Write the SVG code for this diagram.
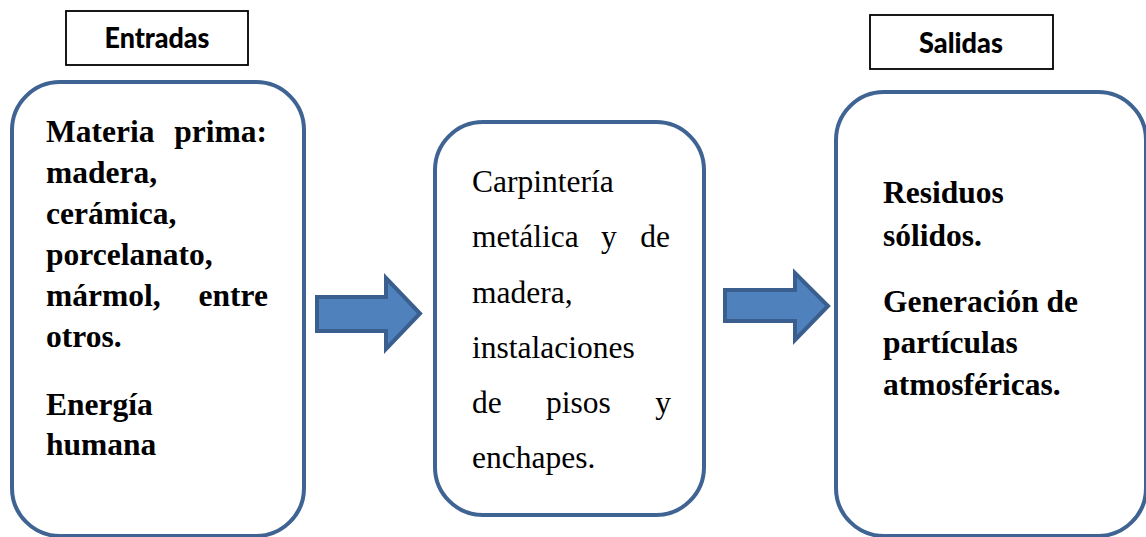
<svg xmlns="http://www.w3.org/2000/svg" width="1146" height="537" viewBox="0 0 1146 537">
<style>
.box{fill:#fff;stroke:#3F6392;stroke-width:4}
.lbl{fill:#fff;stroke:#000;stroke-width:1.8}
.lt{font-family:Lato,"Open Sans",sans-serif;font-weight:900;font-size:28px;fill:#000;text-anchor:middle}
.b{font-family:"Liberation Serif","Times New Roman",serif;font-weight:bold;font-size:31.5px;fill:#000}
.r{font-family:"Liberation Serif","Times New Roman",serif;font-size:31.5px;fill:#000}
.e{text-anchor:end}
.arr{fill:#4F81BD;stroke:#3A5F8E;stroke-width:4;stroke-linejoin:miter}
</style>
<rect width="1146" height="537" fill="#fff"/>
<g id="entradas-label">
<rect class="lbl" x="66" y="11" width="182" height="54"/>
<text class="lt" x="157" y="48" textLength="105" lengthAdjust="spacingAndGlyphs">Entradas</text>
</g>
<g id="salidas-label">
<rect class="lbl" x="870" y="15" width="183" height="54"/>
<text class="lt" x="961" y="53" textLength="84" lengthAdjust="spacingAndGlyphs">Salidas</text>
</g>
<g id="entradas">
<rect class="box" x="12" y="82" width="292" height="454" rx="48" ry="48"/>
<text class="b" x="46" y="142">Materia</text><text class="b e" x="267" y="142">prima:</text>
<text class="b" x="46" y="183">madera,</text>
<text class="b" x="46" y="224">cerámica,</text>
<text class="b" x="46" y="265">porcelanato,</text>
<text class="b" x="46" y="306">mármol,</text><text class="b e" x="268" y="306">entre</text>
<text class="b" x="46" y="347">otros.</text>
<text class="b" x="46" y="415">Energía</text>
<text class="b" x="46" y="455">humana</text>
</g>
<g id="proceso">
<rect class="box" x="435" y="122" width="269" height="393" rx="48" ry="48"/>
<text class="r" x="472" y="192">Carpintería</text>
<text class="r" x="472" y="247">metálica</text><text class="r" x="601" y="247">y</text><text class="r e" x="670" y="247">de</text>
<text class="r" x="472" y="303">madera,</text>
<text class="r" x="472" y="358">instalaciones</text>
<text class="r" x="472" y="413">de</text><text class="r" x="546" y="413">pisos</text><text class="r e" x="671" y="413">y</text>
<text class="r" x="472" y="468">enchapes.</text>
</g>
<g id="salidas">
<rect class="box" x="836" y="92" width="310" height="444" rx="48" ry="48"/>
<text class="b" x="883" y="203">Residuos</text>
<text class="b" x="883" y="246">sólidos.</text>
<text class="b" x="883" y="312">Generación de</text>
<text class="b" x="883" y="353">partículas</text>
<text class="b" x="883" y="395">atmosféricas.</text>
</g>
<g id="connectors">
<path class="arr" d="M317,297 H386 V278 L420,313.5 L386,349 V331 H317 Z"/>
<path class="arr" d="M725,290 H795 V273 L828,306 L795,340 V321 H725 Z"/>
</g>
</svg>
